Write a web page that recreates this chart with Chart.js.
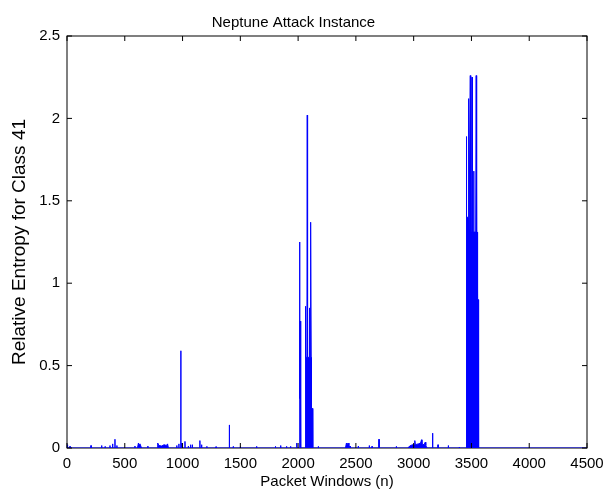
<!DOCTYPE html>
<html>
<head>
<meta charset="utf-8">
<script src="https://cdn.jsdelivr.net/npm/chart.js@4/dist/chart.umd.min.js"></script>
<style>
  html, body { margin: 0; padding: 0; background: #fff; }
  #wrap { width: 604px; height: 492px; }
</style>
</head>
<body>
<div id="wrap"><canvas id="entropyChart" width="604" height="492"></canvas></div>
<script>
// tick labels
const xTicks = [0, 500, 1000, 1500, 2000, 2500, 3000, 3500, 4000, 4500];
const yTicks = [0, 0.5, 1, 1.5, 2, 2.5];

// isolated spikes (packet window, relative entropy)
const spikeN = [5, 26, 208, 300, 330, 372, 395, 415, 432, 588,
  700, 950, 968, 985, 992, 1021, 1050, 1070, 1085, 1150,
  1165, 1210, 1290, 1405, 1439, 1500, 1641, 1804, 1849, 1900,
  1935, 1988, 2175, 2450, 2521, 2616, 2640, 2700, 2850, 3164,
  3211, 3300, 3395];
const spikeH = [0.02, 0.01, 0.015, 0.015, 0.01, 0.015, 0.025, 0.053, 0.015, 0.012,
  0.012, 0.015, 0.025, 0.59, 0.03, 0.04, 0.012, 0.02, 0.02, 0.045,
  0.02, 0.01, 0.008, 0.14, 0.01, 0.008, 0.01, 0.01, 0.015, 0.01,
  0.01, 0.03, 0.01, 0.012, 0.012, 0.015, 0.01, 0.053, 0.01, 0.09,
  0.02, 0.015, 0.006];

// dense bursts, read point by point
const burstN = [
  610, 618, 625, 632, 645,
  780, 785, 795, 820, 840, 860, 870, 878,
  2010, 2013, 2015, 2018, 2021, 2024,
  2060, 2063, 2066, 2076, 2079, 2082, 2096, 2099, 2103, 2107, 2110, 2113, 2116, 2125, 2127,
  2410, 2418, 2425, 2432, 2440,
  2950, 2965, 2990, 3005, 3010, 3014, 3040, 3060, 3068, 3072, 3090, 3100, 3105, 3115,
  3453, 3456, 3459, 3472, 3476, 3479, 3487, 3490, 3494, 3502, 3505, 3508, 3516, 3519, 3522, 3537, 3541, 3545, 3550, 3553, 3560, 3562
];
const burstH = [
  0, 0.03, 0.02, 0.025, 0,
  0, 0.03, 0.015, 0.012, 0.02, 0.015, 0.025, 0,
  0, 1.25, 0.3, 0.77, 0.77, 0,
  0, 0.86, 0.55, 0.55, 2.02, 0.55, 0.55, 0.85, 0.55, 0.55, 1.37, 0.55, 0.24, 0.24, 0,
  0, 0.03, 0.02, 0.03, 0,
  0, 0.012, 0.02, 0.02, 0.045, 0.02, 0.025, 0.03, 0.05, 0.025, 0.02, 0.035, 0.015, 0,
  0, 1.89, 1.40, 1.40, 2.12, 1.31, 1.31, 2.26, 1.31, 1.31, 2.25, 1.31, 1.31, 1.68, 1.31, 1.31, 2.26, 1.31, 1.31, 0.90, 0.90, 0
];

// build the line points
let points = [{ x: 0, y: 0 }, { x: 4500, y: 0 }];
spikeN.forEach((n, i) => {
  points.push({ x: n - 1, y: 0 }, { x: n, y: spikeH[i] }, { x: n + 1, y: 0 });
});
burstN.forEach((n, i) => points.push({ x: n, y: burstH[i] }));
points.sort((a, b) => a.x - b.x);

const FONT = "'Liberation Sans', Arial, sans-serif";

// matlab style box with inward ticks
const boxTicks = {
  id: "boxTicks",
  beforeDatasetsDraw(chart) {
    const { ctx, chartArea: a } = chart;
    ctx.save();
    ctx.strokeStyle = "#000";
    ctx.lineWidth = 1;
    ctx.strokeRect(a.left, a.top, a.right - a.left, a.bottom - a.top);
    ctx.restore();
  },
  afterDatasetsDraw(chart) {
    const { ctx, chartArea: a, scales } = chart;
    ctx.save();
    ctx.strokeStyle = "#000";
    ctx.lineWidth = 1;
    ctx.beginPath();
    xTicks.forEach(v => {
      const px = scales.x.getPixelForValue(v);
      ctx.moveTo(px, a.bottom); ctx.lineTo(px, a.bottom - 5);
      ctx.moveTo(px, a.top); ctx.lineTo(px, a.top + 5);
    });
    yTicks.forEach(v => {
      const py = scales.y.getPixelForValue(v);
      ctx.moveTo(a.left, py); ctx.lineTo(a.left + 5, py);
      ctx.moveTo(a.right, py); ctx.lineTo(a.right - 5, py);
    });
    ctx.stroke();
    ctx.restore();
  }
};

new Chart(document.getElementById("entropyChart"), {
  type: "line",
  data: {
    datasets: [{
      data: points,
      borderColor: "#0000ff",
      backgroundColor: "#0000ff",
      borderWidth: 1,
      pointRadius: 0,
      tension: 0,
      fill: "origin"
    }]
  },
  options: {
    responsive: false,
    animation: false,
    layout: { padding: { left: 0, right: 17, top: 0, bottom: 0 } },
    plugins: {
      legend: { display: false },
      tooltip: { enabled: false },
      title: {
        display: true,
        text: "Neptune Attack Instance",
        color: "#000",
        font: { family: FONT, size: 15, weight: "normal" },
        padding: { top: 14, bottom: 4 }
      }
    },
    scales: {
      x: {
        type: "linear",
        min: 0,
        max: 4500,
        grid: { display: false, drawTicks: false },
        border: { display: false },
        afterBuildTicks: s => { s.ticks = xTicks.map(v => ({ value: v })); },
        afterFit: s => { s.height = 44; s.paddingLeft = 0; s.paddingRight = 0; },
        ticks: {
          color: "#000",
          padding: 7,
          maxRotation: 0,
          font: { family: FONT, size: 15 },
          callback: v => String(v)
        },
        title: {
          display: true,
          text: "Packet Windows (n)",
          color: "#000",
          font: { family: FONT, size: 15 },
          padding: { top: 0, bottom: 1 }
        }
      },
      y: {
        min: 0,
        max: 2.5,
        grid: { display: false, drawTicks: false },
        border: { display: false },
        afterBuildTicks: s => { s.ticks = yTicks.map(v => ({ value: v })); },
        afterFit: s => { s.width = 67; },
        ticks: {
          color: "#000",
          padding: 7,
          font: { family: FONT, size: 15 },
          callback: v => String(v)
        },
        title: {
          display: true,
          text: "Relative Entropy for Class 41",
          color: "#000",
          font: { family: FONT, size: 19 },
          padding: { top: 8, bottom: 0 }
        }
      }
    }
  },
  plugins: [boxTicks]
});
</script>
</body>
</html>
